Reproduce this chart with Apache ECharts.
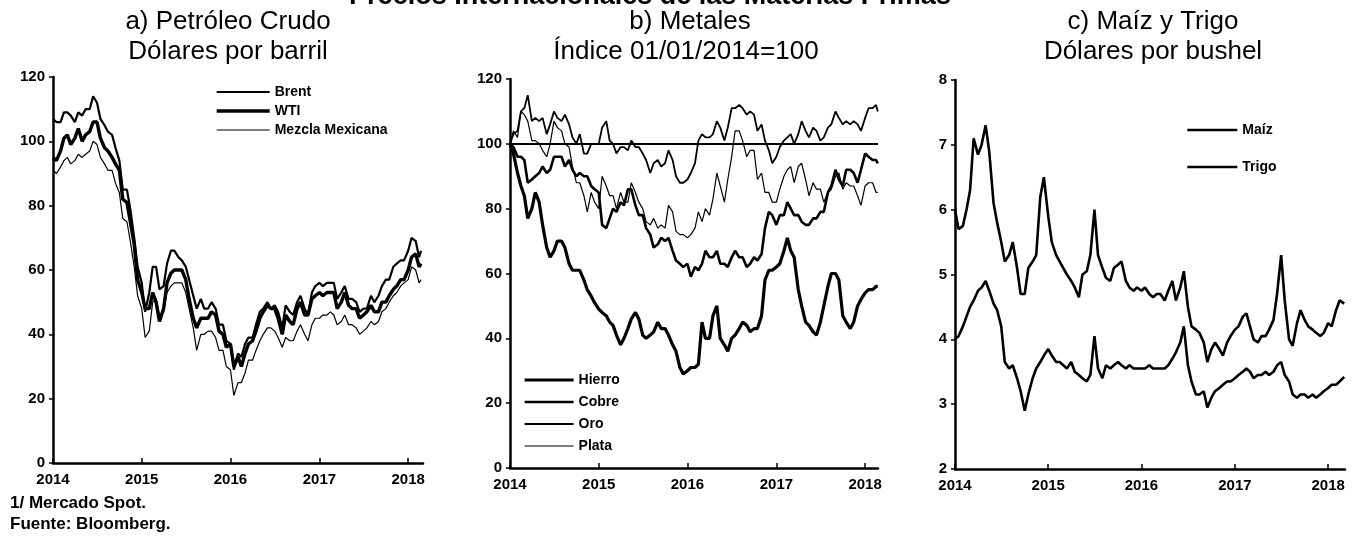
<!DOCTYPE html>
<html lang="es">
<head>
    <meta charset="UTF-8">
    <title>Precios Internacionales de las Materias Primas</title>
    <style>
        html, body {
            margin: 0;
            padding: 0;
            background: #fff;
        }
        #J-chart {
            width: 1363px;
            height: 537px;
        }
    </style>
</head>
<body>

<div id="J-chart"></div>

<script src="https://cdn.jsdelivr.net/npm/echarts@6/dist/echarts.min.js"></script>
<script>
    // fechas quincenales (1 y 15 de cada mes), ene-2014 a feb-2018, mas el ultimo dato de cada panel
    var fechas = [];
    (function () {
        for (var a = 2014; a <= 2018; a++) {
            for (var m = 1; m <= 12; m++) {
                if (a === 2018 && m > 2) break;
                var mm = (m < 10 ? '0' : '') + m;
                fechas.push(a + '-' + mm + '-01', a + '-' + mm + '-15');
            }
        }
    })();
    var finPetroleo = '2018-02-23';
    var finMetales = '2018-02-22';
    var finGranos = '2018-03-05';

    var anios = ['2014', '2015', '2016', '2017', '2018'];

    // a) Petroleo crudo, dolares por barril
    var brent = [
        107, 106, 106, 109, 109, 108, 106, 109, 108, 110, 110, 114, 112, 107, 105, 103, 102, 98, 94, 85, 85, 79, 70, 61,
        56, 47, 53, 61, 61, 54, 55, 62, 66, 66, 64, 63, 61, 57, 52, 48, 51, 48, 48, 50, 48, 43, 43, 38,
        37, 29, 34, 33, 37, 39, 39, 43, 47, 48, 50, 48, 49, 47, 42, 49, 47, 46, 50, 52, 48, 46, 53, 55,
        56, 55, 56, 56, 56, 51, 53, 55, 51, 51, 50, 47, 48, 48, 52, 50, 52, 55, 57, 57, 61, 62, 63, 63,
        66, 70, 69, 64, 66
    ];
    var wti = [
        95, 94, 97, 101, 102, 99, 101, 104, 100, 102, 103, 106, 106, 101, 98, 97, 95, 93, 91, 82, 81, 75, 68, 57,
        53, 48, 48, 53, 50, 44, 48, 56, 59, 60, 60, 60, 57, 51, 45, 42, 45, 45, 45, 47, 46, 41, 40, 36,
        37, 30, 33, 30, 34, 37, 38, 41, 45, 47, 49, 48, 48, 45, 40, 46, 44, 43, 48, 50, 46, 46, 51, 52,
        53, 52, 53, 53, 53, 48, 50, 53, 49, 48, 48, 45, 46, 47, 49, 47, 47, 50, 50, 52, 54, 55, 57, 57,
        60, 64, 65, 61, 62
    ];
    var mezcla = [
        91, 90, 92, 94, 95, 93, 94, 96, 95, 96, 97, 100, 99, 95, 93, 91, 91, 87, 84, 76, 75, 69, 61, 52,
        48, 39, 41, 50, 51, 46, 47, 53, 55, 56, 56, 56, 53, 48, 42, 35, 40, 40, 41, 41, 39, 35, 35, 30,
        29, 21, 25, 25, 28, 32, 32, 35, 38, 40, 42, 42, 41, 39, 36, 39, 38, 38, 41, 43, 40, 38, 43, 45,
        45, 46, 46, 47, 46, 43, 44, 46, 43, 43, 42, 40, 41, 42, 44, 43, 44, 47, 48, 50, 52, 53, 55, 56,
        57, 61, 60, 56, 57
    ];

    // b) Metales, indice 01/01/2014 = 100
    var hierro = [
        100, 97, 91, 87, 84, 77, 80, 85, 82, 75, 68, 65, 67, 70, 70, 68, 63, 61, 61, 61, 58, 55, 53, 51,
        49, 48, 47, 45, 44, 41, 38, 40, 43, 46, 48, 46, 41, 40, 41, 42, 45, 43, 43, 41, 38, 36, 31, 29,
        30, 31, 31, 32, 45, 40, 40, 47, 50, 40, 38, 36, 40, 41, 43, 45, 44, 42, 43, 43, 47, 58, 61, 61,
        62, 63, 67, 71, 67, 65, 55, 50, 45, 44, 42, 41, 45, 50, 56, 60, 60, 58, 47, 45, 43, 45, 50, 52,
        54, 55, 55, 56, 56
    ];
    var cobre = [
        100, 99, 96, 96, 95, 88, 89, 90, 91, 93, 91, 92, 96, 96, 96, 93, 95, 92, 90, 91, 90, 90, 87, 86,
        85, 75, 74, 77, 80, 79, 82, 81, 86, 86, 81, 78, 78, 74, 72, 68, 69, 71, 70, 71, 67, 64, 63, 62,
        63, 59, 62, 61, 63, 67, 65, 65, 67, 63, 63, 62, 65, 67, 65, 65, 62, 63, 65, 64, 66, 74, 79, 78,
        75, 78, 78, 82, 80, 78, 78, 76, 75, 75, 77, 77, 79, 79, 85, 87, 92, 89, 87, 92, 92, 91, 88, 92,
        97, 96, 95, 95, 94
    ];
    var oro = [
        100, 103, 104, 110, 111, 115, 107, 108, 107, 108, 103, 106, 110, 108, 107, 109, 106, 102, 100, 103, 97, 97, 100, 100,
        100, 105, 107, 101, 100, 97, 99, 99, 98, 101, 99, 99, 97, 95, 91, 94, 95, 93, 94, 98, 95, 90, 88, 88,
        89, 91, 94, 101, 103, 102, 102, 103, 107, 105, 101, 105, 111, 111, 112, 111, 109, 110, 109, 104, 106, 101, 98, 94,
        96, 99, 101, 102, 103, 100, 103, 107, 104, 102, 105, 104, 101, 102, 105, 106, 110, 108, 106, 107, 106, 107, 106, 104,
        108, 111, 111, 112, 110
    ];
    var plata = [
        100, 104, 102, 110, 109, 107, 101, 101, 100, 98, 96, 100, 107, 105, 104, 100, 99, 93, 88, 88, 84, 79, 85, 82,
        80, 90, 87, 84, 84, 80, 85, 82, 82, 88, 85, 82, 80, 76, 75, 77, 74, 75, 74, 81, 79, 73, 72, 72,
        71, 72, 74, 79, 76, 80, 78, 83, 91, 87, 82, 89, 96, 104, 104, 101, 96, 98, 98, 89, 91, 85, 85, 82,
        82, 86, 90, 92, 93, 88, 93, 94, 89, 84, 88, 86, 86, 82, 85, 86, 90, 91, 86, 88, 87, 87, 84, 81,
        87, 88, 88, 85, 85
    ];

    // c) Maiz y trigo, dolares por bushel
    var maiz = [
        4.0, 4.05, 4.2, 4.35, 4.5, 4.6, 4.75, 4.8, 4.9, 4.75, 4.55, 4.45, 4.2, 3.65, 3.55, 3.6, 3.4, 3.2, 2.9, 3.15, 3.4, 3.55, 3.65, 3.75,
        3.85, 3.75, 3.65, 3.65, 3.6, 3.55, 3.65, 3.5, 3.45, 3.4, 3.35, 3.45, 4.05, 3.55, 3.4, 3.6, 3.55, 3.6, 3.65, 3.6, 3.55, 3.6, 3.55, 3.55,
        3.55, 3.55, 3.6, 3.55, 3.55, 3.55, 3.55, 3.6, 3.7, 3.8, 3.95, 4.2, 3.6, 3.35, 3.15, 3.15, 3.2, 2.95, 3.1, 3.2, 3.25, 3.3, 3.35, 3.35,
        3.4, 3.45, 3.5, 3.55, 3.5, 3.4, 3.45, 3.45, 3.5, 3.45, 3.5, 3.6, 3.65, 3.45, 3.35, 3.15, 3.1, 3.15, 3.15, 3.1, 3.15, 3.1, 3.15, 3.2,
        3.25, 3.3, 3.3, 3.35, 3.42
    ];
    var trigo = [
        6.0, 5.7, 5.75, 6.0, 6.3, 7.1, 6.85, 7.0, 7.3, 6.9, 6.1, 5.8, 5.5, 5.2, 5.3, 5.5, 5.1, 4.7, 4.7, 5.1, 5.2, 5.3, 6.2, 6.5,
        5.9, 5.5, 5.3, 5.2, 5.1, 5.0, 4.9, 4.8, 4.65, 5.0, 5.05, 5.3, 6.0, 5.3, 5.1, 4.95, 4.9, 5.1, 5.15, 5.2, 4.9, 4.8, 4.75, 4.8,
        4.75, 4.8, 4.7, 4.65, 4.7, 4.7, 4.6, 4.75, 4.9, 4.6, 4.8, 5.05, 4.5, 4.2, 4.15, 4.1, 3.95, 3.65, 3.85, 3.95, 3.85, 3.75, 3.95, 4.05,
        4.15, 4.2, 4.35, 4.4, 4.2, 4.0, 3.95, 4.05, 4.05, 4.15, 4.3, 4.7, 5.3, 4.6, 4.0, 3.9, 4.25, 4.45, 4.3, 4.2, 4.15, 4.1, 4.05, 4.1,
        4.25, 4.2, 4.45, 4.6, 4.55
    ];

    function pares(valores, fin) {
        var ejeX = fechas.concat([fin]);
        return valores.map(function (v, i) {
            return [ejeX[i], v];
        });
    }

    var FUENTE = '"Liberation Sans", Arial, sans-serif';
    var DIA = 24 * 3600 * 1000;
    var ANIO = 365.25 * DIA;

    function ejeTiempo(idx, max) {
        return {
            type: 'time',
            gridIndex: idx,
            min: '2014-01-01',
            max: max,
            minInterval: ANIO - 2 * DIA,
            maxInterval: ANIO + 2 * DIA,
            axisLine: {lineStyle: {color: '#000', width: 2.5}},
            axisTick: {show: true, inside: true, length: 5, lineStyle: {color: '#000', width: 1.5}},
            splitLine: {show: false},
            axisLabel: {
                color: '#000',
                fontFamily: FUENTE,
                fontWeight: 'bold',
                fontSize: 15,
                margin: 9,
                showMaxLabel: false,
                formatter: function (val) {
                    var y = String(new Date(val).getFullYear());
                    return anios.indexOf(y) >= 0 ? y : '';
                }
            }
        };
    }

    function ejeValor(idx, min, max, interval) {
        return {
            type: 'value',
            gridIndex: idx,
            min: min,
            max: max,
            interval: interval,
            axisLine: {show: true, lineStyle: {color: '#000', width: 2.5}},
            axisTick: {show: true, length: 4, lineStyle: {color: '#000', width: 1.5}},
            splitLine: {show: false},
            axisLabel: {
                color: '#000',
                fontFamily: FUENTE,
                fontWeight: 'bold',
                fontSize: 15,
                margin: 8
            }
        };
    }

    function linea(nombre, idx, datos, ancho) {
        return {
            name: nombre,
            type: 'line',
            xAxisIndex: idx,
            yAxisIndex: idx,
            data: datos,
            symbol: 'none',
            animation: false,
            lineStyle: {color: '#000', width: ancho},
            itemStyle: {color: '#000'}
        };
    }

    function leyenda(nombres, left, top, ancho, gap) {
        return {
            data: nombres,
            orient: 'vertical',
            left: left,
            top: top,
            padding: 0,
            itemWidth: ancho,
            itemHeight: 14,
            itemGap: gap,
            selectedMode: false,
            itemStyle: {opacity: 0},
            lineStyle: {width: 'inherit'},
            textStyle: {
                color: '#000',
                fontFamily: FUENTE,
                fontWeight: 'bold',
                fontSize: 14,
                lineHeight: 14
            }
        };
    }

    function texto(t, x, y, size, weight, align) {
        return {
            type: 'text',
            x: x,
            y: y,
            silent: true,
            style: {
                text: t,
                fill: '#000',
                font: (weight || 'normal') + ' ' + size + 'px ' + FUENTE,
                textAlign: align || 'center',
                textVerticalAlign: 'middle'
            }
        };
    }

    var chart = echarts.init(document.getElementById('J-chart'));

    var hierroSerie = linea('Hierro', 1, pares(hierro, finMetales), 3.2);
    hierroSerie.markLine = {
        silent: true,
        symbol: 'none',
        label: {show: false},
        lineStyle: {color: '#000', width: 2, type: 'solid'},
        data: [{yAxis: 100}]
    };

    var option = {
        backgroundColor: '#fff',
        animation: false,
        graphic: [
            texto('Precios Internacionales de las Materias Primas', 650, -3, 27, 'bold'),
            texto('a) Petróleo Crudo', 228, 22, 26),
            texto('Dólares por barril', 228, 52, 26),
            texto('b) Metales', 690, 22, 26),
            texto('Índice 01/01/2014=100', 686, 52, 26),
            texto('c) Maíz y Trigo', 1153, 22, 26),
            texto('Dólares por bushel', 1153, 52, 26),
            texto('1/ Mercado Spot.', 10, 503, 17, 'bold', 'left'),
            texto('Fuente: Bloomberg.', 10, 524, 17, 'bold', 'left')
        ],
        grid: [
            {left: 53, top: 77, width: 370, height: 386},
            {left: 510, top: 79, width: 368, height: 389},
            {left: 955, top: 80, width: 390, height: 389}
        ],
        legend: [
            leyenda(['Brent', 'WTI', 'Mezcla Mexicana'], 215, 85, 53, 5),
            leyenda(['Hierro', 'Cobre', 'Oro', 'Plata'], 523, 373, 49, 8),
            leyenda(['Maíz', 'Trigo'], 1186, 123, 50, 23)
        ],
        xAxis: [
            ejeTiempo(0, '2018-03-03'),
            ejeTiempo(1, '2018-02-23'),
            ejeTiempo(2, '2018-03-08')
        ],
        yAxis: [
            ejeValor(0, 0, 120, 20),
            ejeValor(1, 0, 120, 20),
            ejeValor(2, 2, 8, 1)
        ],
        series: [
            linea('Brent', 0, pares(brent, finPetroleo), 2.2),
            linea('WTI', 0, pares(wti, finPetroleo), 3.4),
            linea('Mezcla Mexicana', 0, pares(mezcla, finPetroleo), 1.2),
            hierroSerie,
            linea('Cobre', 1, pares(cobre, finMetales), 2.6),
            linea('Oro', 1, pares(oro, finMetales), 1.8),
            linea('Plata', 1, pares(plata, finMetales), 1.2),
            linea('Maíz', 2, pares(maiz, finGranos), 2.6),
            linea('Trigo', 2, pares(trigo, finGranos), 2.6)
        ]
    };

    chart.setOption(option);
</script>
</body>
</html>
